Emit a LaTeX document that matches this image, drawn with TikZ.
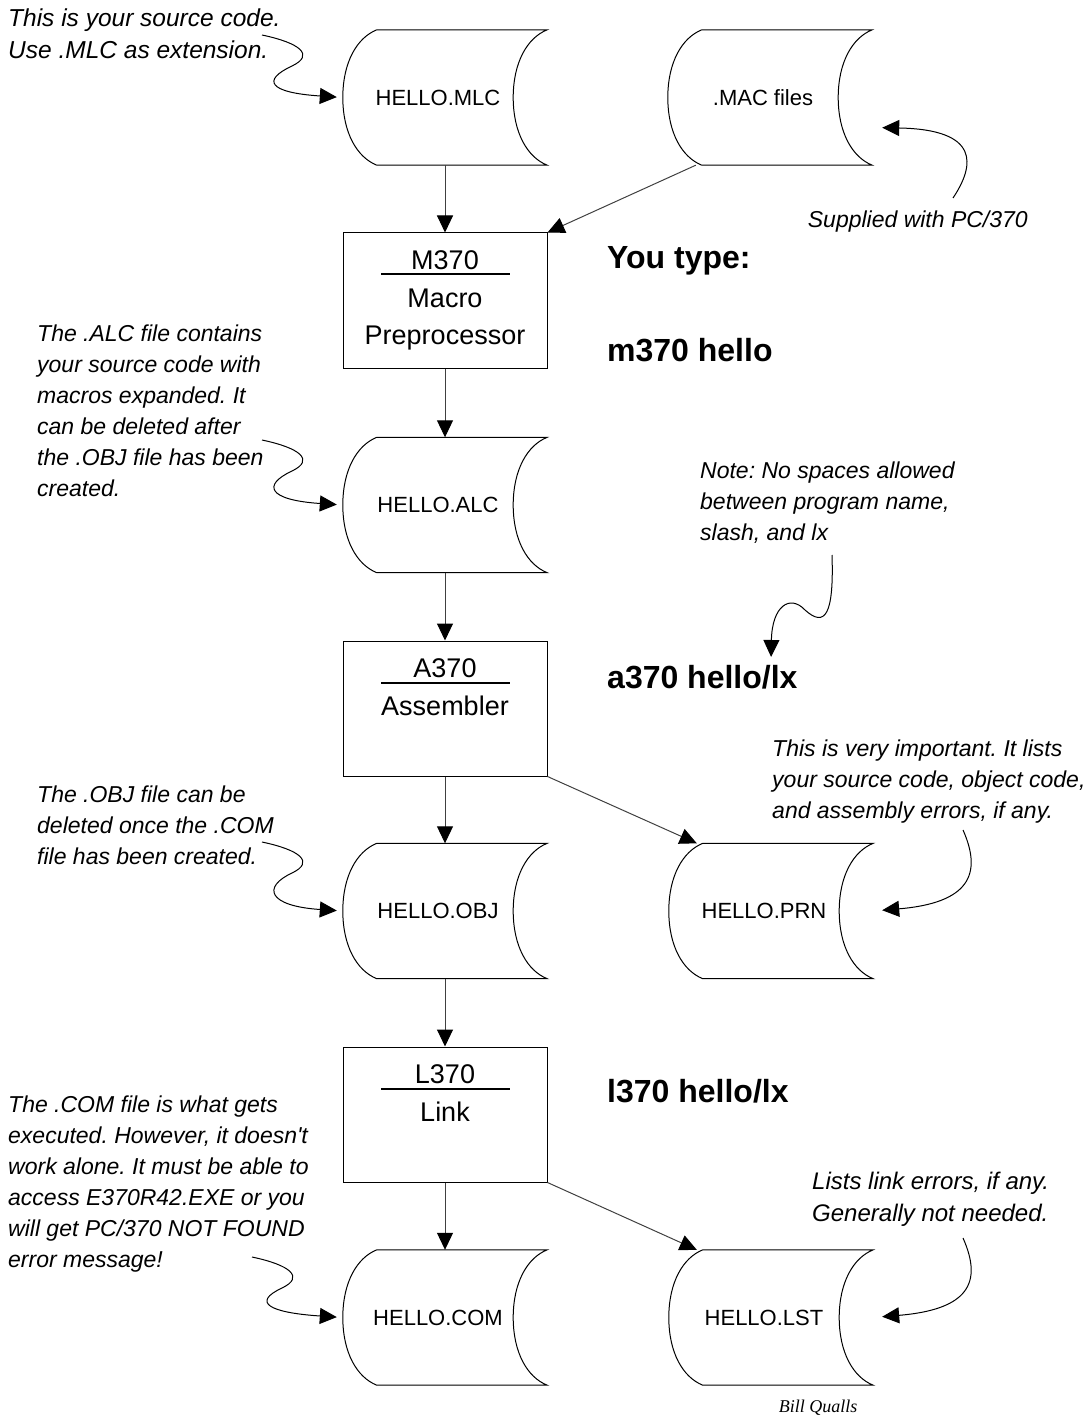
\documentclass[tikz,border=0pt]{standalone}
\usepackage{fontspec}
\setmainfont{Liberation Sans}
\newfontfamily\signfont{Liberation Serif}
\usetikzlibrary{calc,arrows.meta}
\frenchspacing
\def\drumfile(#1)(#2)#3{%
	\node[drum] (#1) at (#2) {};
	\node[drumtext] (#1-txt) at ($(#1.center)+(-7,0)$) {#3};
	\draw[drumline] ($(#1.north west)+(34,0)$) -- (#1.north east)
		.. controls +(-20,8) and +(0,-35) .. ($(#1.east)+(-34,0)$)
		.. controls +(0,35) and +(-20,-8) .. (#1.south east)
		-- ($(#1.south west)+(34,0)$)
		.. controls +(-20,-8) and +(0,35) .. (#1.west)
		.. controls +(0,-35) and +(-20,8) .. ($(#1.north west)+(34,0)$);}
\def\procstep(#1)(#2)#3{%
	\node[procbox] (#1) at (#2) {};
	\node[boxtext] (#1-txt) at ($(#1.north)+(0,18)$) {#3};
	\draw[headrule] ($(#1.north)+(-64,42)$) -- ++(129,0);}
\def\squigleft(#1)(#2){\draw[squig] (#1) .. controls +(38,8) and +(23,-11) .. ++(30,31) .. controls +(-30,14) and +(-75,-5) .. (#2);}

\begin{document}
\begin{tikzpicture}[x=1pt,y=-1pt,
		drum/.style={minimum width=204pt,minimum height=135pt,inner sep=0pt},
		drumtext/.style={inner sep=0pt,font=\fontsize{22}{26}\selectfont},
		drumline/.style={line width=1pt},
		procbox/.style={draw,line width=1pt,minimum width=204pt,minimum height=135pt,inner sep=0pt},
		boxtext/.style={anchor=north,align=center,inner sep=0pt,font=\fontsize{27}{37.5}\selectfont},
		headrule/.style={line width=2pt},
		flow/.style={draw=black!75,line width=1pt,-{Triangle[length=17pt,width=16pt,color=black]}},
		squig/.style={line width=1pt,-{Triangle[length=17pt,width=16pt]},shorten >=6pt},
		note/.style={anchor=west,align=left,inner sep=0pt,font=\fontsize{23}{31}\selectfont\itshape},
		cmd/.style={anchor=west,inner sep=0pt,font=\fontsize{32}{38}\selectfont\bfseries}]
	%%%%% START %%%%%
	\useasboundingbox (0,0) rectangle (1083,1420);
	
	\drumfile(mlc)(445,97.5){HELLO.MLC}
	\drumfile(mac)(770,97.5){.MAC files}
	\procstep(m370)(445,300.5){M370\\Macro\\Preprocessor}
	\drumfile(alc)(445,505){HELLO.ALC}
	\procstep(a370)(445,708.5){A370\\Assembler}
	\drumfile(obj)(445,911){HELLO.OBJ}
	\drumfile(prn)(771,911){HELLO.PRN}
	\procstep(l370)(445,1114.5){L370\\Link}
	\drumfile(com)(445,1317.5){HELLO.COM}
	\drumfile(lst)(771,1317.5){HELLO.LST}
	
	\draw[flow] (mlc.south) -- (m370.north);
	\draw[flow] ($(mac.south west)+(28,0)$) -- (m370.north east);
	\draw[flow] (m370.south) -- (alc.north);
	\draw[flow] (alc.south) -- (a370.north);
	\draw[flow] (a370.south) -- (obj.north);
	\draw[flow] (a370.south east) -- ($(prn.north west)+(28,0)$);
	\draw[flow] (obj.south) -- (l370.north);
	\draw[flow] (l370.south) -- (com.north);
	\draw[flow] (l370.south east) -- ($(lst.north west)+(28,0)$);
	
	\node[cmd] (youtype) at (607,261) {You type:};
	\node[cmd] (mcmd) at (607,350) {m370 hello};
	\node[cmd] (acmd) at (607,677) {a370 hello/lx};
	\node[cmd] (lcmd) at (607,1091) {l370 hello/lx};
	
	\node[note,font=\fontsize{24.5}{32}\selectfont\itshape] (srcnote) at (8,34) {This is your source code.\\Use .MLC as extension.};
	\node[note,anchor=east] (macnote) at (1028,222) {Supplied with PC/370};
	\node[note] (alcnote) at (37,411) {The .ALC file contains\\your source code with\\macros expanded. It\\can be deleted after\\the .OBJ file has been\\created.};
	\node[note] (lxnote) at (700,503) {Note: No spaces allowed\\between program name,\\slash, and lx};
	\node[note] (prnnote) at (772,782) {This is very important. It lists\\your source code, object code,\\and assembly errors, if any.};
	\node[note] (objnote) at (37,825) {The .OBJ file can be\\deleted once the .COM\\file has been created.};
	\node[note] (comnote) at (8,1184) {The .COM file is what gets\\executed. However, it doesn\textquotesingle t\\work alone. It must be able to\\access E370R42.EXE or you\\will get PC/370 NOT FOUND\\error message!};
	\node[note,font=\fontsize{24}{32}\selectfont\itshape] (lstnote) at (812,1199) {Lists link errors, if any.\\Generally not needed.};
	\node[inner sep=0pt,font=\signfont\fontsize{18}{20}\selectfont\itshape] (sign) at (818,1408) {Bill Qualls};
	
	\coordinate (s-mlc) at (262,35);
	\coordinate (s-alc) at (262,440);
	\coordinate (s-obj) at (262,842);
	\coordinate (s-com) at (252,1257);
	\squigleft(s-mlc)(mlc.west)
	\squigleft(s-alc)(alc.west)
	\squigleft(s-obj)(obj.west)
	\squigleft(s-com)(com.west)
	
	\coordinate (s-mac) at (953,198);
	\coordinate (macin) at ($(mac.east)+(0,30)$);
	\draw[squig,shorten >=10pt] (s-mac) .. controls +(22,-33) and +(108,2) .. (macin);
	\coordinate (s-lx) at (832,555);
	\coordinate (lxin) at (771,663);
	\draw[squig] (s-lx) .. controls +(2,60) and +(20,18) .. ++(-27,55) .. controls +(-15,-16) and +(1,-57) .. (lxin);
	\coordinate (s-prn) at (963,830);
	\draw[squig,shorten >=9pt] (s-prn) .. controls +(20,45) and +(95,-8) .. (prn.east);
	\coordinate (s-lst) at (963,1238);
	\draw[squig,shorten >=9pt] (s-lst) .. controls +(20,45) and +(95,-8) .. (lst.east);
	
	%%%%% END %%%%%
\end{tikzpicture}
\end{document}
